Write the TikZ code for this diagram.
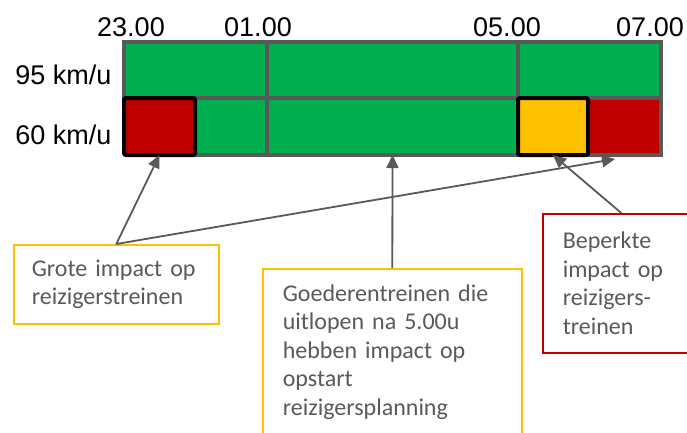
\documentclass[tikz,border=0pt]{standalone}
\usepackage{fontspec}
\setmainfont{Liberation Sans}
\newfontfamily\calib{Carlito}
\usetikzlibrary{arrows.meta}
\definecolor{grn}{HTML}{00B050}
\definecolor{rd}{HTML}{C00000}
\definecolor{ylw}{HTML}{FFC000}
\definecolor{gry}{HTML}{595959}
\tikzset{
  cell/.style={draw=gry, line width=4pt, inner sep=0pt, outer sep=0pt, minimum height=57pt},
  bold/.style={draw=black, line width=4pt, rounded corners=2pt, inner sep=0pt, outer sep=0pt, minimum height=57pt},
  hl/.style={font=\fontsize{27}{32}\selectfont, inner sep=0pt},
  callout/.style={line width=1.6pt, anchor=north west, align=left, inner xsep=20pt, text=gry,
     font=\calib\fontsize{24}{28.5}\selectfont},
  arr/.style={draw=gry, line width=1.8pt, -{Triangle[length=13pt,width=12pt]}}
}
\begin{document}
\begin{tikzpicture}[x=1pt,y=-1pt]
\useasboundingbox (0,0) rectangle (687,432);
\clip (0,0) rectangle (687,432);
% top row
\node[cell, fill=grn, minimum width=143pt, minimum height=56pt] (g1) at (195.5,70) {};
\node[cell, fill=grn, minimum width=251pt, minimum height=56pt] (g2) at (392.5,70) {};
\node[cell, fill=grn, minimum width=143pt, minimum height=56pt] (g3) at (589.5,70) {};
% bottom row
\node[cell, fill=grn, minimum width=72pt] (g4) at (231,126.5) {};
\node[cell, fill=grn, minimum width=251pt] (g5) at (392.5,126.5) {};
\node[cell, fill=rd, minimum width=73pt] (r2) at (624.5,126.5) {};
\node[bold, fill=rd, minimum width=71pt] (r1) at (159.5,126.5) {};
\node[bold, fill=ylw, minimum width=70pt] (y1) at (553,126.5) {};
% time labels
\node[hl] (t23) at (131,27) {23.00};
\node[hl] (t01) at (258,27) {01.00};
\node[hl] (t05) at (507,27) {05.00};
\node[hl] (t07) at (650,27) {07.00};
% row labels
\node[hl] (s95) at (63.5,75) {95 km/u};
\node[hl] (s60) at (63.5,135) {60 km/u};
% callouts
\node[callout, draw=ylw, inner xsep=18pt, minimum width=205pt, minimum height=79pt, text width=169pt] (b1) at (13,244)
  {\mbox{Grote impact op}\\\mbox{reizigerstreinen}};
\node[callout, draw=ylw, text width=219pt, inner ysep=16pt] (b2) at (262,268)
  {Goederentreinen die\\uitlopen na 5.00u\\hebben impact op\\opstart\\reizigersplanning\\[30pt]};
\node[callout, draw=rd, minimum width=157pt, minimum height=139pt, text width=117pt] (b3) at (542,213)
  {Beperkte\\impact op\\reizigers-\\treinen};
% arrows
\coordinate (tip2) at (615,159);
\draw[arr] (b1.north) -- (r1.south);
\draw[arr] (b1.north) -- (tip2);
\draw[arr] (b2.north) -- (g5.south);
\draw[arr] (b3.north) -- (y1.south);
\end{tikzpicture}
\end{document}
